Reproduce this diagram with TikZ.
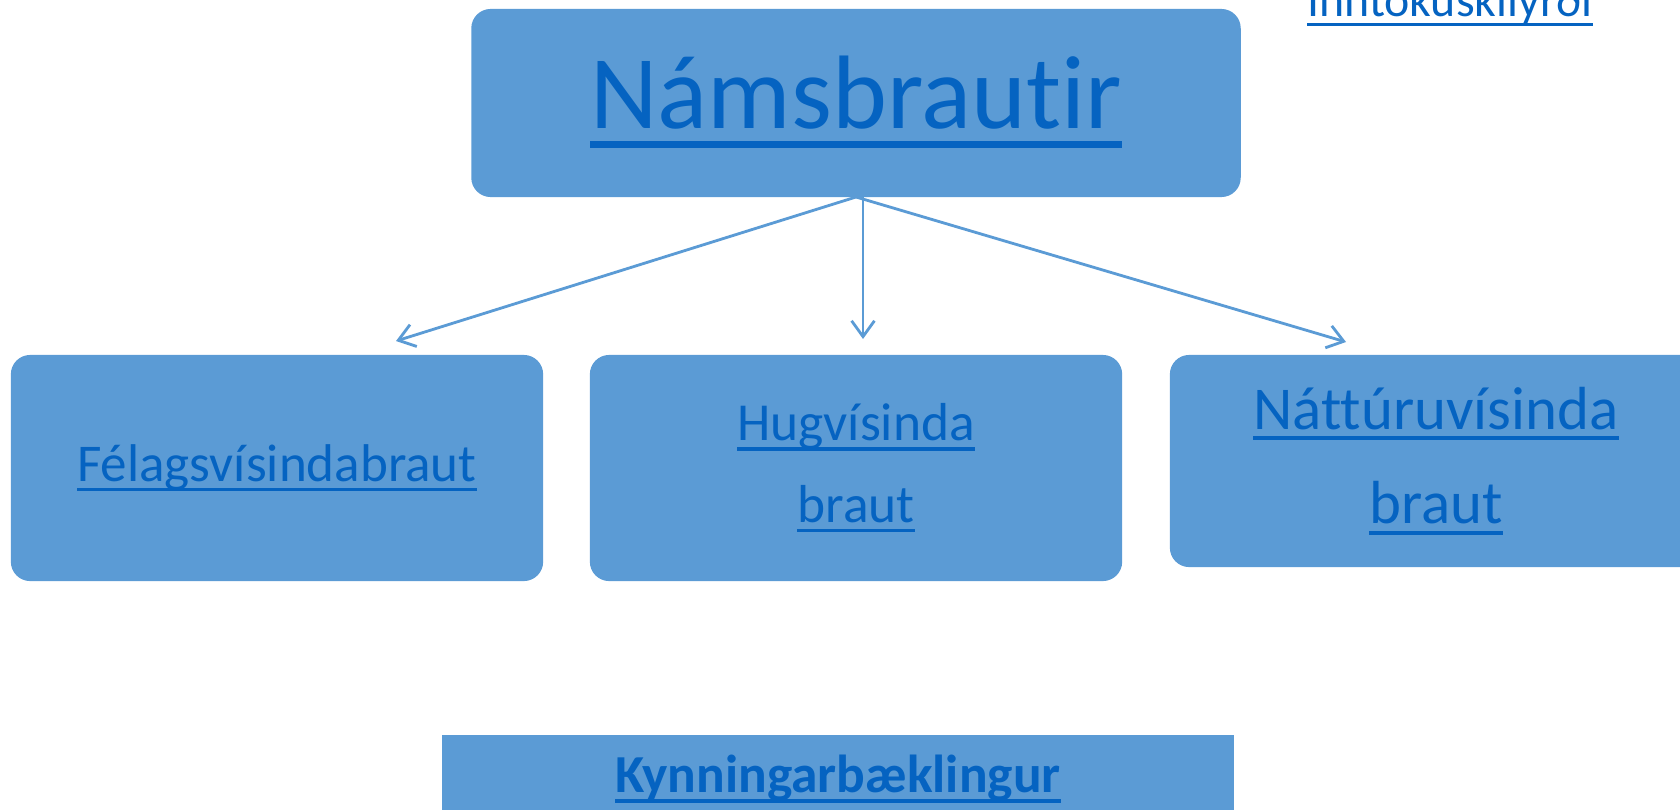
\documentclass[tikz,border=0pt]{standalone}
\usepackage{fontspec}
\setmainfont{Carlito}[Ligatures=NoCommon]
\usetikzlibrary{arrows.meta}
\definecolor{boxblue}{HTML}{5B9BD5}
\definecolor{linkblue}{HTML}{0563C1}
\newsavebox\lnkbox
\newcommand\lnk[1]{\sbox\lnkbox{#1}\rlap{\vrule width\wd\lnkbox height -0.12em depth 0.185em}\usebox\lnkbox}

\begin{document}
\begin{tikzpicture}[
x=0.01cm,y=-0.01cm,
brbox/.style={
  fill=boxblue,
  rounded corners=5.5pt,
  text=linkblue,
  align=center,
  inner sep=0pt,
  minimum width=5.32cm,
  minimum height=2.26cm
},
arr/.style={
  draw=boxblue,
  line width=0.8pt,
  -{Straight Barb[length=4.5pt,width=6.5pt]}
}
]
\useasboundingbox (0,0) rectangle (1680,809);

\coordinate (felTip) at (396,341);
\coordinate (hugTip) at (863,339);
\coordinate (natTip) at (1346,342);

\draw[arr] (856,197) -- (felTip);
\draw[arr] (863,197) -- (hugTip);
\draw[arr] (856,197) -- (natTip);

\node[brbox,minimum width=7.69cm,minimum height=1.88cm,font=\fontsize{29.7}{35}\selectfont,text depth=6pt]
  (nams) at (856,103) {\lnk{Námsbrautir}};
\node[brbox,font=\fontsize{15.1}{23}\selectfont,text depth=3pt]
  (fel) at (277,468) {\lnk{Félagsvísindabraut}};
\node[brbox,font=\fontsize{15.2}{23.3}\selectfont]
  (hug) at (856,468) {\lnk{Hugvísinda}\\\lnk{braut}};
\node[brbox,minimum height=2.12cm,font=\fontsize{17.3}{27}\selectfont]
  (nat) at (1436,461) {\lnk{Náttúruvísinda}\\\lnk{braut}};
\node[brbox,rounded corners=0pt,minimum width=7.92cm,minimum height=0.88cm,font=\fontsize{15.2}{20}\selectfont\bfseries]
  (kynn) at (838,779) {\lnk{Kynningarbæklingur}};
\node[text=linkblue,inner sep=0pt,anchor=base,font=\fontsize{13.6}{16}\selectfont]
  (inntaka) at (1450,17) {\lnk{Inntökuskilyrði}};
\end{tikzpicture}
\end{document}
